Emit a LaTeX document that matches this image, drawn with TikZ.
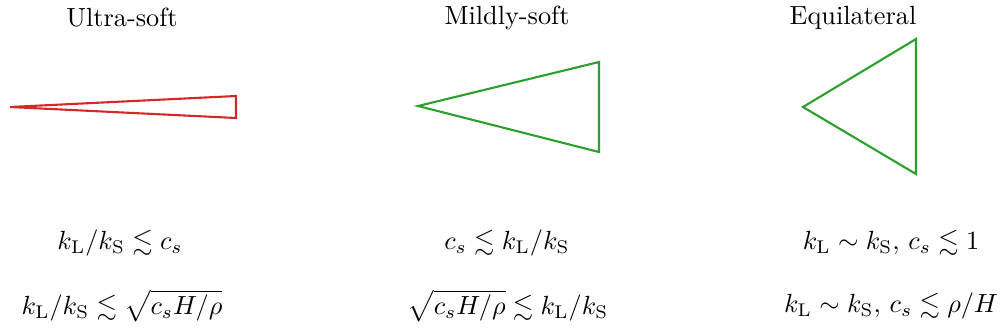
\documentclass[tikz,border=0pt]{standalone}
\usepackage{amsmath,amssymb}
\usetikzlibrary{positioning}

\definecolor{softred}{RGB}{214,39,40}
\definecolor{softgreen}{RGB}{44,160,44}

\begin{document}
\begin{tikzpicture}[x=0.01338cm, y=-0.01338cm,
    shape line/.style={line width=0.8pt, line join=miter},
    title/.style={font=\normalsize},
    cond/.style={font=\normalsize}]
    \useasboundingbox (0,0) rectangle (1004,335);

    % Titles
    \node[title] (ttlA) at (122,18) {Ultra-soft};
    \node[title] (ttlB) at (507,18) {Mildly-soft};
    \node[title] (ttlC) at (853,18) {Equilateral};

    % Ultra-soft triangle
    \draw[shape line, softred] (10,107) -- (236,96) -- (236,118) -- cycle;

    % Mildly-soft triangle
    \draw[shape line, softgreen] (418,106) -- (599,62) -- (599,152) -- cycle;

    % Equilateral triangle
    \draw[shape line, softgreen] (803,107) -- (916,39) -- (916,174) -- cycle;

    % First conditions
    \node[cond] (condA) at (120,243) {$k_\mathrm{L}/k_\mathrm{S} \lesssim c_s$};
    \node[cond] (condB) at (507,243) {$c_s \lesssim k_\mathrm{L}/k_\mathrm{S}$};
    \node[cond] (condC) at (891,243) {$k_\mathrm{L} \sim k_\mathrm{S},\, c_s \lesssim 1$};

    % Second conditions
    \node[cond] (limA) at (122,306) {$k_\mathrm{L}/k_\mathrm{S} \lesssim \sqrt{c_s H/\rho}$};
    \node[cond] (limB) at (508,306) {$\sqrt{c_s H/\rho} \lesssim k_\mathrm{L}/k_\mathrm{S}$};
    \node[cond] (limC) at (891,306) {$k_\mathrm{L} \sim k_\mathrm{S},\, c_s \lesssim \rho/H$};
\end{tikzpicture}
\end{document}
